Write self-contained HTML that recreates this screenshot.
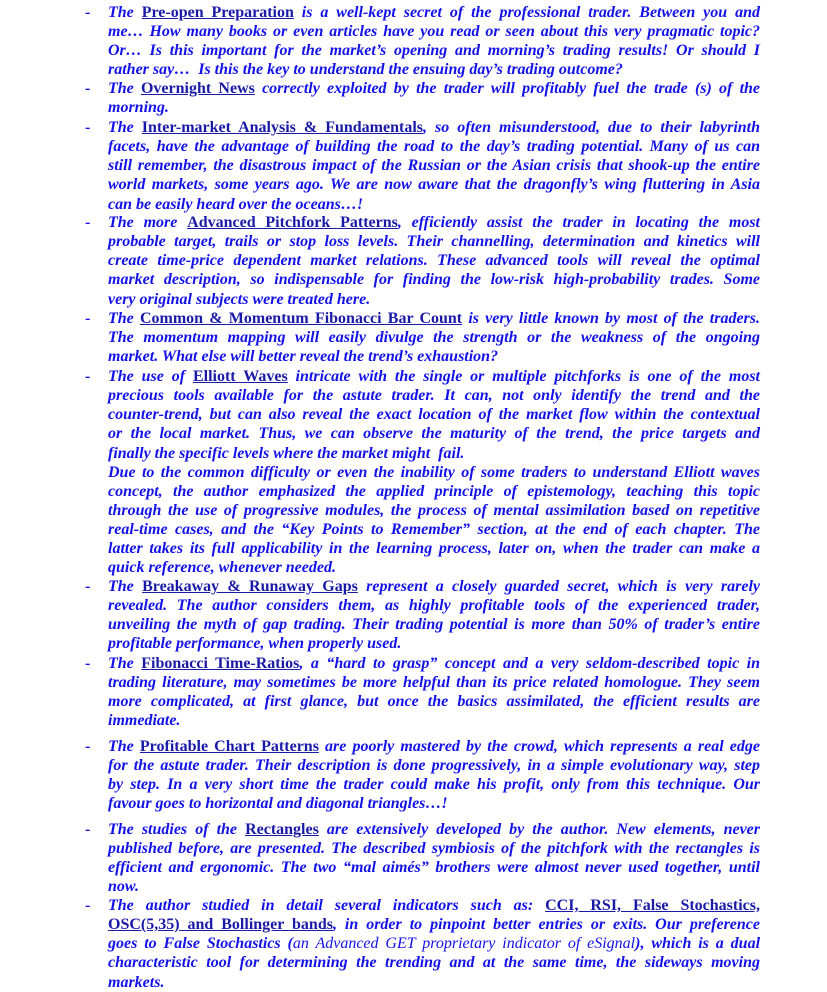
<!DOCTYPE html>
<html><head><meta charset="utf-8"><style>
body{margin:0;width:827px;height:990px;background:#fff;overflow:hidden;position:relative;font-family:"Liberation Serif",serif;}
.p{position:absolute;left:108px;width:652px;font-size:16px;font-weight:bold;font-style:italic;color:#1212e8;}
.p div{height:19.14px;line-height:19.14px;white-space:normal;overflow:visible}
.j{text-align:justify;text-align-last:justify}
.d{position:absolute;left:85px;font-size:16px;font-weight:bold;color:#1212e8;line-height:19px}
u{font-style:normal;font-weight:bold;color:#1a1aa8;text-decoration:underline}
.n{font-weight:normal}
</style></head><body>
<div class="d" style="top:3px">-</div>
<div class="p" style="top:3px">
<div class="j">The <u>Pre-open Preparation</u> is a well-kept secret of the professional trader. Between you and</div>
<div class="j">me… How many books or even articles have you read or seen about this very pragmatic topic?</div>
<div class="j">Or… Is this important for the market’s opening and morning’s trading results! Or should I</div>
<div>rather say… &nbsp;Is this the key to understand the ensuing day’s trading outcome?</div>
</div>
<div class="d" style="top:79px">-</div>
<div class="p" style="top:79px">
<div class="j">The <u>Overnight News</u> correctly exploited by the trader will profitably fuel the trade (s) of the</div>
<div>morning.</div>
</div>
<div class="d" style="top:118px">-</div>
<div class="p" style="top:118px">
<div class="j">The <u>Inter-market Analysis &amp; Fundamentals</u>, so often misunderstood, due to their labyrinth</div>
<div class="j">facets, have the advantage of building the road to the day’s trading potential. Many of us can</div>
<div class="j">still remember, the disastrous impact of the Russian or the Asian crisis that shook-up the entire</div>
<div class="j">world markets, some years ago. We are now aware that the dragonfly’s wing fluttering in Asia</div>
<div>can be easily heard over the oceans…!</div>
</div>
<div class="d" style="top:213px">-</div>
<div class="p" style="top:213px">
<div class="j">The more <u>Advanced Pitchfork Patterns</u>, efficiently assist the trader in locating the most</div>
<div class="j">probable target, trails or stop loss levels. Their channelling, determination and kinetics will</div>
<div class="j">create time-price dependent market relations. These advanced tools will reveal the optimal</div>
<div class="j">market description, so indispensable for finding the low-risk high-probability trades. Some</div>
<div>very original subjects were treated here.</div>
</div>
<div class="d" style="top:309px">-</div>
<div class="p" style="top:309px">
<div class="j">The <u>Common &amp; Momentum Fibonacci Bar Count</u> is very little known by most of the traders.</div>
<div class="j">The momentum mapping will easily divulge the strength or the weakness of the ongoing</div>
<div>market. What else will better reveal the trend’s exhaustion?</div>
</div>
<div class="d" style="top:367px">-</div>
<div class="p" style="top:367px">
<div class="j">The use of <u>Elliott Waves</u> intricate with the single or multiple pitchforks is one of the most</div>
<div class="j">precious tools available for the astute trader. It can, not only identify the trend and the</div>
<div class="j">counter-trend, but can also reveal the exact location of the market flow within the contextual</div>
<div class="j">or the local market. Thus, we can observe the maturity of the trend, the price targets and</div>
<div>finally the specific levels where the market might &nbsp;fail.</div>
<div class="j">Due to the common difficulty or even the inability of some traders to understand Elliott waves</div>
<div class="j">concept, the author emphasized the applied principle of epistemology, teaching this topic</div>
<div class="j">through the use of progressive modules, the process of mental assimilation based on repetitive</div>
<div class="j">real-time cases, and the “Key Points to Remember” section, at the end of each chapter. The</div>
<div class="j">latter takes its full applicability in the learning process, later on, when the trader can make a</div>
<div>quick reference, whenever needed.</div>
</div>
<div class="d" style="top:577px">-</div>
<div class="p" style="top:577px">
<div class="j">The <u>Breakaway &amp; Runaway Gaps</u> represent a closely guarded secret, which is very rarely</div>
<div class="j">revealed. The author considers them, as highly profitable tools of the experienced trader,</div>
<div class="j">unveiling the myth of gap trading. Their trading potential is more than 50% of trader’s entire</div>
<div>profitable performance, when properly used.</div>
</div>
<div class="d" style="top:654px">-</div>
<div class="p" style="top:654px">
<div class="j">The <u>Fibonacci Time-Ratios</u>, a “hard to grasp” concept and a very seldom-described topic in</div>
<div class="j">trading literature, may sometimes be more helpful than its price related homologue. They seem</div>
<div class="j">more complicated, at first glance, but once the basics assimilated, the efficient results are</div>
<div>immediate.</div>
</div>
<div class="d" style="top:737px">-</div>
<div class="p" style="top:737px">
<div class="j">The <u>Profitable Chart Patterns</u> are poorly mastered by the crowd, which represents a real edge</div>
<div class="j">for the astute trader. Their description is done progressively, in a simple evolutionary way, step</div>
<div class="j">by step. In a very short time the trader could make his profit, only from this technique. Our</div>
<div>favour goes to horizontal and diagonal triangles…!</div>
</div>
<div class="d" style="top:820px">-</div>
<div class="p" style="top:820px">
<div class="j">The studies of the <u>Rectangles</u> are extensively developed by the author. New elements, never</div>
<div class="j">published before, are presented. The described symbiosis of the pitchfork with the rectangles is</div>
<div class="j">efficient and ergonomic. The two “mal aimés” brothers were almost never used together, until</div>
<div>now.</div>
</div>
<div class="d" style="top:896px">-</div>
<div class="p" style="top:896px">
<div class="j">The author studied in detail several indicators such as: <u>CCI, RSI, False Stochastics,</u></div>
<div class="j"><u>OSC(5,35) and Bollinger bands</u>, in order to pinpoint better entries or exits. Our preference</div>
<div class="j">goes to False Stochastics (<span class="n">an Advanced GET proprietary indicator of eSignal</span>), which is a dual</div>
<div class="j">characteristic tool for determining the trending and at the same time, the sideways moving</div>
<div>markets.</div>
</div>
</body></html>
